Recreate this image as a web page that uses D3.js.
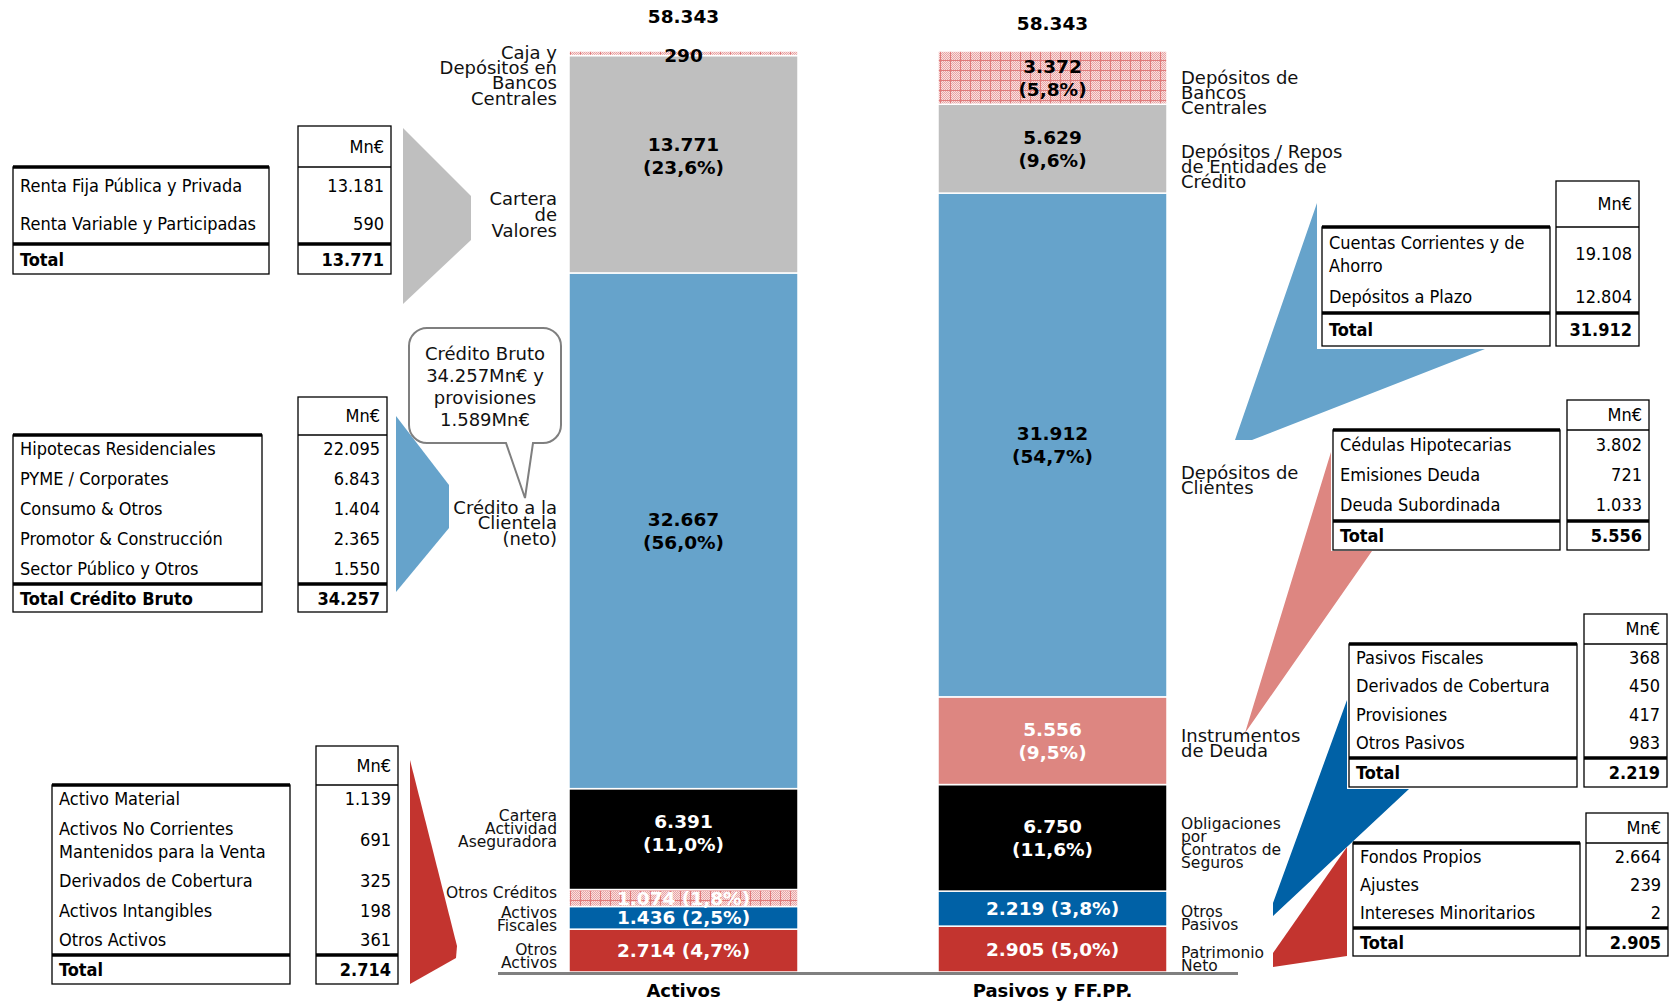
<!DOCTYPE html>
<html>
<head>
<meta charset="utf-8">
<script src="https://cdn.jsdelivr.net/npm/d3@7"></script>
<style>
body { margin: 0; background: #fff; }
svg { display: block; }
.bar-text, .side text, .top-total, .callout text { font-family: "DejaVu Sans", Verdana, sans-serif; }
.tbl text { font-family: "DejaVu Sans Condensed", "DejaVu Sans", sans-serif; font-stretch: condensed; font-size: 18px; fill: #000; }
</style>
</head>
<body>
<div id="chart"></div>
<script>
// ---- data ----
var categories = ["Activos", "Pasivos y FF.PP."];
var totals = [58343, 58343];

// stacked from the bottom up
var activosNames = ["Otros Activos", "Activos Fiscales", "Otros Créditos", "Cartera Actividad Aseguradora",
                    "Crédito a la Clientela", "Cartera de Valores", "Caja y Depósitos en Bancos Centrales"];
var activosValues = [2714, 1436, 1074, 6391, 32667, 13771, 290];
var activosLabels = ["Otros\nActivos", "Activos\nFiscales", "Otros Créditos", "Cartera\nActividad\nAseguradora",
                     "Crédito a la\nClientela\n(neto)", "Cartera\nde\nValores", "Caja y\nDepósitos en\nBancos\nCentrales"];

var pasivosNames = ["Patrimonio Neto", "Otros Pasivos", "Obligaciones por Contratos de Seguros", "Instrumentos de Deuda",
                    "Depósitos de Clientes", "Depósitos / Repos de Entidades de Crédito", "Depósitos de Bancos Centrales"];
var pasivosValues = [2905, 2219, 6750, 5556, 31912, 5629, 3372];
var pasivosLabels = ["Patrimonio\nNeto", "Otros\nPasivos", "Obligaciones\npor\nContratos de\nSeguros", "Instrumentos\nde Deuda",
                     "Depósitos de\nClientes", "Depósitos / Repos\nde Entidades de\nCrédito", "Depósitos de\nBancos\nCentrales"];

var valoresItems = ["Renta Fija Pública y Privada", "Renta Variable y Participadas"];
var valoresAmounts = [13181, 590];
var valoresTotal = 13771;

var creditoItems = ["Hipotecas Residenciales", "PYME / Corporates", "Consumo & Otros", "Promotor & Construcción", "Sector Público y Otros"];
var creditoAmounts = [22095, 6843, 1404, 2365, 1550];
var creditoTotal = 34257;

var otrosActivosItems = ["Activo Material", "Activos No Corrientes\nMantenidos para la Venta", "Derivados de Cobertura", "Activos Intangibles", "Otros Activos"];
var otrosActivosAmounts = [1139, 691, 325, 198, 361];
var otrosActivosTotal = 2714;

var clientesItems = ["Cuentas Corrientes y de\nAhorro", "Depósitos a Plazo"];
var clientesAmounts = [19108, 12804];
var clientesTotal = 31912;

var deudaItems = ["Cédulas Hipotecarias", "Emisiones Deuda", "Deuda Subordinada"];
var deudaAmounts = [3802, 721, 1033];
var deudaTotal = 5556;

var otrosPasivosItems = ["Pasivos Fiscales", "Derivados de Cobertura", "Provisiones", "Otros Pasivos"];
var otrosPasivosAmounts = [368, 450, 417, 983];
var otrosPasivosTotal = 2219;

var patrimonioItems = ["Fondos Propios", "Ajustes", "Intereses Minoritarios"];
var patrimonioAmounts = [2664, 239, 2];
var patrimonioTotal = 2905;

var calloutText = ["Crédito Bruto", "34.257Mn€ y", "provisiones", "1.589Mn€"];

// ---- styles ----
var RED = "#c3342f", DBLUE = "#0061a6", BLUE = "#66a3cb", GRAY = "#bfbfbf", SALMON = "#dd8681";
var fillOf = {
  "Otros Activos": RED, "Activos Fiscales": DBLUE, "Otros Créditos": "url(#hatch)",
  "Cartera Actividad Aseguradora": "#000", "Crédito a la Clientela": BLUE, "Cartera de Valores": GRAY,
  "Caja y Depósitos en Bancos Centrales": "url(#hatch)",
  "Patrimonio Neto": RED, "Otros Pasivos": DBLUE, "Obligaciones por Contratos de Seguros": "#000",
  "Instrumentos de Deuda": SALMON, "Depósitos de Clientes": BLUE,
  "Depósitos / Repos de Entidades de Crédito": GRAY, "Depósitos de Bancos Centrales": "url(#hatch)"
};
var whiteText = ["Otros Activos", "Activos Fiscales", "Otros Créditos", "Cartera Actividad Aseguradora",
                 "Patrimonio Neto", "Otros Pasivos", "Obligaciones por Contratos de Seguros", "Instrumentos de Deuda"];
var smallSide = ["Otros Activos", "Activos Fiscales", "Otros Créditos", "Cartera Actividad Aseguradora",
                 "Patrimonio Neto", "Otros Pasivos", "Obligaciones por Contratos de Seguros"];
// vertical nudge of the side captions relative to their segment middle
var sideShift = {
  "Caja y Depósitos en Bancos Centrales": 22, "Cartera de Valores": 50, "Crédito a la Clientela": -8,
  "Cartera Actividad Aseguradora": -11, "Otros Créditos": -6, "Activos Fiscales": 1, "Otros Activos": 5,
  "Depósitos de Bancos Centrales": 15, "Depósitos / Repos de Entidades de Crédito": 18, "Depósitos de Clientes": 35,
  "Instrumentos de Deuda": 2, "Obligaciones por Contratos de Seguros": 5, "Otros Pasivos": 9, "Patrimonio Neto": 10
};
var valueShift = {"Cartera de Valores": -9, "Cartera Actividad Aseguradora": -7};

var W = 1673, H = 1002;
var svg = d3.select("#chart").append("svg").attr("width", W).attr("height", H);

var defs = svg.append("defs");
var dots = defs.append("pattern").attr("id", "dots").attr("patternUnits", "userSpaceOnUse").attr("width", 2).attr("height", 2);
dots.append("rect").attr("width", 2).attr("height", 2).attr("fill", "#f9e0e0");
dots.append("rect").attr("width", 1).attr("height", 1).attr("fill", "#e8a4a4");
dots.append("rect").attr("x", 1).attr("y", 1).attr("width", 1).attr("height", 1).attr("fill", "#e8a4a4");
var hatch = defs.append("pattern").attr("id", "hatch").attr("patternUnits", "userSpaceOnUse").attr("width", 10).attr("height", 10);
hatch.append("rect").attr("width", 10).attr("height", 10).attr("fill", "url(#dots)");
hatch.append("path").attr("d", "M0,0.5H10M0.5,0V10").attr("stroke", "#e07a7a").attr("stroke-width", 1);

var es = d3.formatLocale({decimal: ",", thousands: ".", grouping: [3], currency: ["", "€"]});
var fmtInt = es.format(",.0f");
var fmtPct = es.format(".1f");

var x = d3.scaleBand().domain(categories).range([569, 1167]).paddingInner(140 / 369);
var y = d3.scaleLinear().domain([0, d3.max(totals)]).range([972, 51]);

var columns = [
  {cat: categories[0], names: activosNames, values: activosValues, labels: activosLabels, side: "left"},
  {cat: categories[1], names: pasivosNames, values: pasivosValues, labels: pasivosLabels, side: "right"}
];
var segments = [];
columns.forEach(function(c, ci) {
  var acc = 0;
  c.values.forEach(function(v, i) {
    segments.push({cat: c.cat, col: ci, name: c.names[i], label: c.labels[i], value: v,
                   y0: acc, y1: acc + v, total: totals[ci], side: c.side});
    acc += v;
  });
});

// bars
svg.append("g").selectAll("rect").data(segments).join("rect")
  .attr("x", function(d) { return x(d.cat); })
  .attr("width", x.bandwidth())
  .attr("y", function(d) { return y(d.y1); })
  .attr("height", function(d) { return y(d.y0) - y(d.y1); })
  .attr("fill", function(d) { return fillOf[d.name]; })
  .attr("stroke", "#fff")
  .attr("stroke-width", 1.5);

// values inside bars
var vals = svg.append("g").attr("class", "bar-text")
  .attr("font-weight", "bold").attr("font-size", 18.5).attr("text-anchor", "middle");
segments.forEach(function(d) {
  var h = y(d.y0) - y(d.y1);
  var cx = x(d.cat) + x.bandwidth() / 2;
  var cy = (y(d.y0) + y(d.y1)) / 2 + (valueShift[d.name] || 0);
  var col = whiteText.indexOf(d.name) >= 0 ? "#fff" : "#000";
  var pct = "(" + fmtPct(d.value / d.total * 100) + "%)";
  if (h > 50) {
    vals.append("text").attr("x", cx).attr("y", cy - 11 + 6.5).attr("fill", col).text(fmtInt(d.value));
    vals.append("text").attr("x", cx).attr("y", cy + 12 + 6.5).attr("fill", col).text(pct);
  } else if (h > 10) {
    vals.append("text").attr("x", cx).attr("y", cy + 6.5).attr("fill", col).text(fmtInt(d.value) + " " + pct);
  } else {
    vals.append("text").attr("x", cx).attr("y", y(d.y1) + 11).attr("fill", col).text(fmtInt(d.value));
  }
});

// totals on top
columns.forEach(function(c, ci) {
  svg.append("text").attr("class", "top-total")
    .attr("x", x(c.cat) + x.bandwidth() / 2)
    .attr("y", y(totals[ci]) - (ci === 0 ? 28 : 21))
    .attr("text-anchor", "middle").attr("font-weight", "bold").attr("font-size", 18.5)
    .text(fmtInt(totals[ci]));
});

// side captions
var side = svg.append("g").attr("class", "side");
segments.forEach(function(d) {
  var small = smallSide.indexOf(d.name) >= 0;
  var fs = small ? 15.5 : 18;
  var lh = small ? 13 : (d.name === "Cartera de Valores" ? 16 : 15.3);
  var lines = d.label.split("\n");
  var cy = (y(d.y0) + y(d.y1)) / 2 + (sideShift[d.name] || 0);
  var left = d.side === "left";
  var t = side.append("text")
    .attr("font-size", fs)
    .attr("text-anchor", left ? "end" : "start")
    .attr("fill", "#111");
  lines.forEach(function(line, i) {
    t.append("tspan")
      .attr("x", left ? x(d.cat) - 12 : x(d.cat) + x.bandwidth() + 14)
      .attr("y", cy + (i - (lines.length - 1) / 2) * lh + fs * 0.36)
      .text(line);
  });
});

// baseline
svg.append("line")
  .attr("x1", x(categories[0]) - 71).attr("x2", x(categories[1]) + x.bandwidth() + 71)
  .attr("y1", y(0) + 1.5).attr("y2", y(0) + 1.5)
  .attr("stroke", "#808080").attr("stroke-width", 3);

var axis = svg.append("g").attr("transform", "translate(0,984)")
  .call(d3.axisBottom(x).tickSize(0).tickPadding(0));
axis.select(".domain").remove();
axis.selectAll("text")
  .attr("font-family", "DejaVu Sans, Verdana, sans-serif")
  .attr("font-size", 18).attr("font-weight", "bold").attr("fill", "#000");

// connector wedges between bars and tables
var wedges = [
  {fill: GRAY,   pts: [[403,128],[471,196],[471,240],[403,304]]},
  {fill: BLUE,   pts: [[396,416],[449,485],[449,528],[396,592]]},
  {fill: RED,    pts: [[410,760],[457,946],[456,958],[410,984]]},
  {fill: BLUE,   pts: [[1317,203],[1317,349],[1485,349],[1252,440],[1235,440]]},
  {fill: SALMON, pts: [[1331,452],[1331,551],[1372,551],[1245,733]]},
  {fill: DBLUE,  pts: [[1347,700],[1347,789],[1409,789],[1273,916],[1273,903]]},
  {fill: RED,    pts: [[1347,847],[1347,956],[1273,967],[1273,953]]}
];
svg.append("g").selectAll("polygon").data(wedges).join("polygon")
  .attr("points", function(d) { return d.pts.join(" "); })
  .attr("fill", function(d) { return d.fill; });

// tables
function drawTable(L, items, amounts, total, totalLabel) {
  var g = svg.append("g").attr("class", "tbl");
  var lw = L.lx[1] - L.lx[0], vw = L.vx[1] - L.vx[0];
  g.append("rect").attr("x", L.lx[0]).attr("y", L.sep).attr("width", lw).attr("height", L.bottom - L.sep)
    .attr("fill", "#fff").attr("stroke", "#000").attr("stroke-width", 1.3);
  g.append("rect").attr("x", L.vx[0]).attr("y", L.top).attr("width", vw).attr("height", L.bottom - L.top)
    .attr("fill", "#fff").attr("stroke", "#000").attr("stroke-width", 1.3);
  g.append("line").attr("x1", L.lx[0]).attr("x2", L.lx[1]).attr("y1", L.sep).attr("y2", L.sep)
    .attr("stroke", "#000").attr("stroke-width", 3.5);
  g.append("line").attr("x1", L.vx[0]).attr("x2", L.vx[1]).attr("y1", L.sep).attr("y2", L.sep)
    .attr("stroke", "#000").attr("stroke-width", 1.3);
  [L.lx, L.vx].forEach(function(xx) {
    g.append("line").attr("x1", xx[0]).attr("x2", xx[1]).attr("y1", L.thick).attr("y2", L.thick)
      .attr("stroke", "#000").attr("stroke-width", 3.5);
  });
  g.append("text").attr("x", L.vx[1] - 7).attr("y", (L.top + L.sep) / 2 + 6)
    .attr("text-anchor", "end").text("Mn€");

  var weights = items.map(function(s) { return s.indexOf("\n") >= 0 ? 1.8 : 1; });
  var unit = (L.thick - L.sep) / d3.sum(weights);
  var acc = L.sep;
  items.forEach(function(s, i) {
    var cy = acc + weights[i] * unit / 2;
    acc += weights[i] * unit;
    var lines = s.split("\n");
    lines.forEach(function(line, j) {
      g.append("text").attr("x", L.lx[0] + 7)
        .attr("y", cy + (j - (lines.length - 1) / 2) * 23 + 5.5).text(line);
    });
    g.append("text").attr("x", L.vx[1] - 7).attr("y", cy + 5.5)
      .attr("text-anchor", "end").text(fmtInt(amounts[i]));
  });
  var ty = (L.thick + L.bottom) / 2 + 6.5;
  g.append("text").attr("x", L.lx[0] + 7).attr("y", ty).attr("font-weight", "bold").text(totalLabel);
  g.append("text").attr("x", L.vx[1] - 7).attr("y", ty).attr("text-anchor", "end")
    .attr("font-weight", "bold").text(fmtInt(total));
}

drawTable({lx: [13, 269], vx: [298, 391], top: 126, sep: 167, thick: 244, bottom: 274},
          valoresItems, valoresAmounts, valoresTotal, "Total");
drawTable({lx: [13, 262], vx: [298, 387], top: 397, sep: 435, thick: 584, bottom: 612},
          creditoItems, creditoAmounts, creditoTotal, "Total Crédito Bruto");
drawTable({lx: [52, 290], vx: [316, 398], top: 746, sep: 785, thick: 955, bottom: 984},
          otrosActivosItems, otrosActivosAmounts, otrosActivosTotal, "Total");
drawTable({lx: [1322, 1550], vx: [1556, 1639], top: 181, sep: 227, thick: 313, bottom: 346},
          clientesItems, clientesAmounts, clientesTotal, "Total");
drawTable({lx: [1333, 1560], vx: [1567, 1649], top: 400, sep: 430, thick: 521, bottom: 550},
          deudaItems, deudaAmounts, deudaTotal, "Total");
drawTable({lx: [1349, 1577], vx: [1584, 1667], top: 614, sep: 644, thick: 758, bottom: 787},
          otrosPasivosItems, otrosPasivosAmounts, otrosPasivosTotal, "Total");
drawTable({lx: [1353, 1580], vx: [1586, 1668], top: 813, sep: 843, thick: 928, bottom: 956},
          patrimonioItems, patrimonioAmounts, patrimonioTotal, "Total");

// callout bubble
var co = svg.append("g").attr("class", "callout");
var bx0 = 409, bx1 = 561, by0 = 328, by1 = 443, r = 18;
co.append("path")
  .attr("d", "M" + (bx0 + r) + "," + by0 + "H" + (bx1 - r) +
    "A" + r + "," + r + " 0 0 1 " + bx1 + "," + (by0 + r) + "V" + (by1 - r) +
    "A" + r + "," + r + " 0 0 1 " + (bx1 - r) + "," + by1 +
    "H533L525,498L506," + by1 + "H" + (bx0 + r) +
    "A" + r + "," + r + " 0 0 1 " + bx0 + "," + (by1 - r) + "V" + (by0 + r) +
    "A" + r + "," + r + " 0 0 1 " + (bx0 + r) + "," + by0 + "Z")
  .attr("fill", "#fff").attr("stroke", "#7f7f7f").attr("stroke-width", 2);
calloutText.forEach(function(line, i) {
  co.append("text").attr("x", (bx0 + bx1) / 2).attr("y", 353 + i * 22.3 + 6.5)
    .attr("text-anchor", "middle").attr("font-size", 18).attr("fill", "#111").text(line);
});
</script>
</body>
</html>
